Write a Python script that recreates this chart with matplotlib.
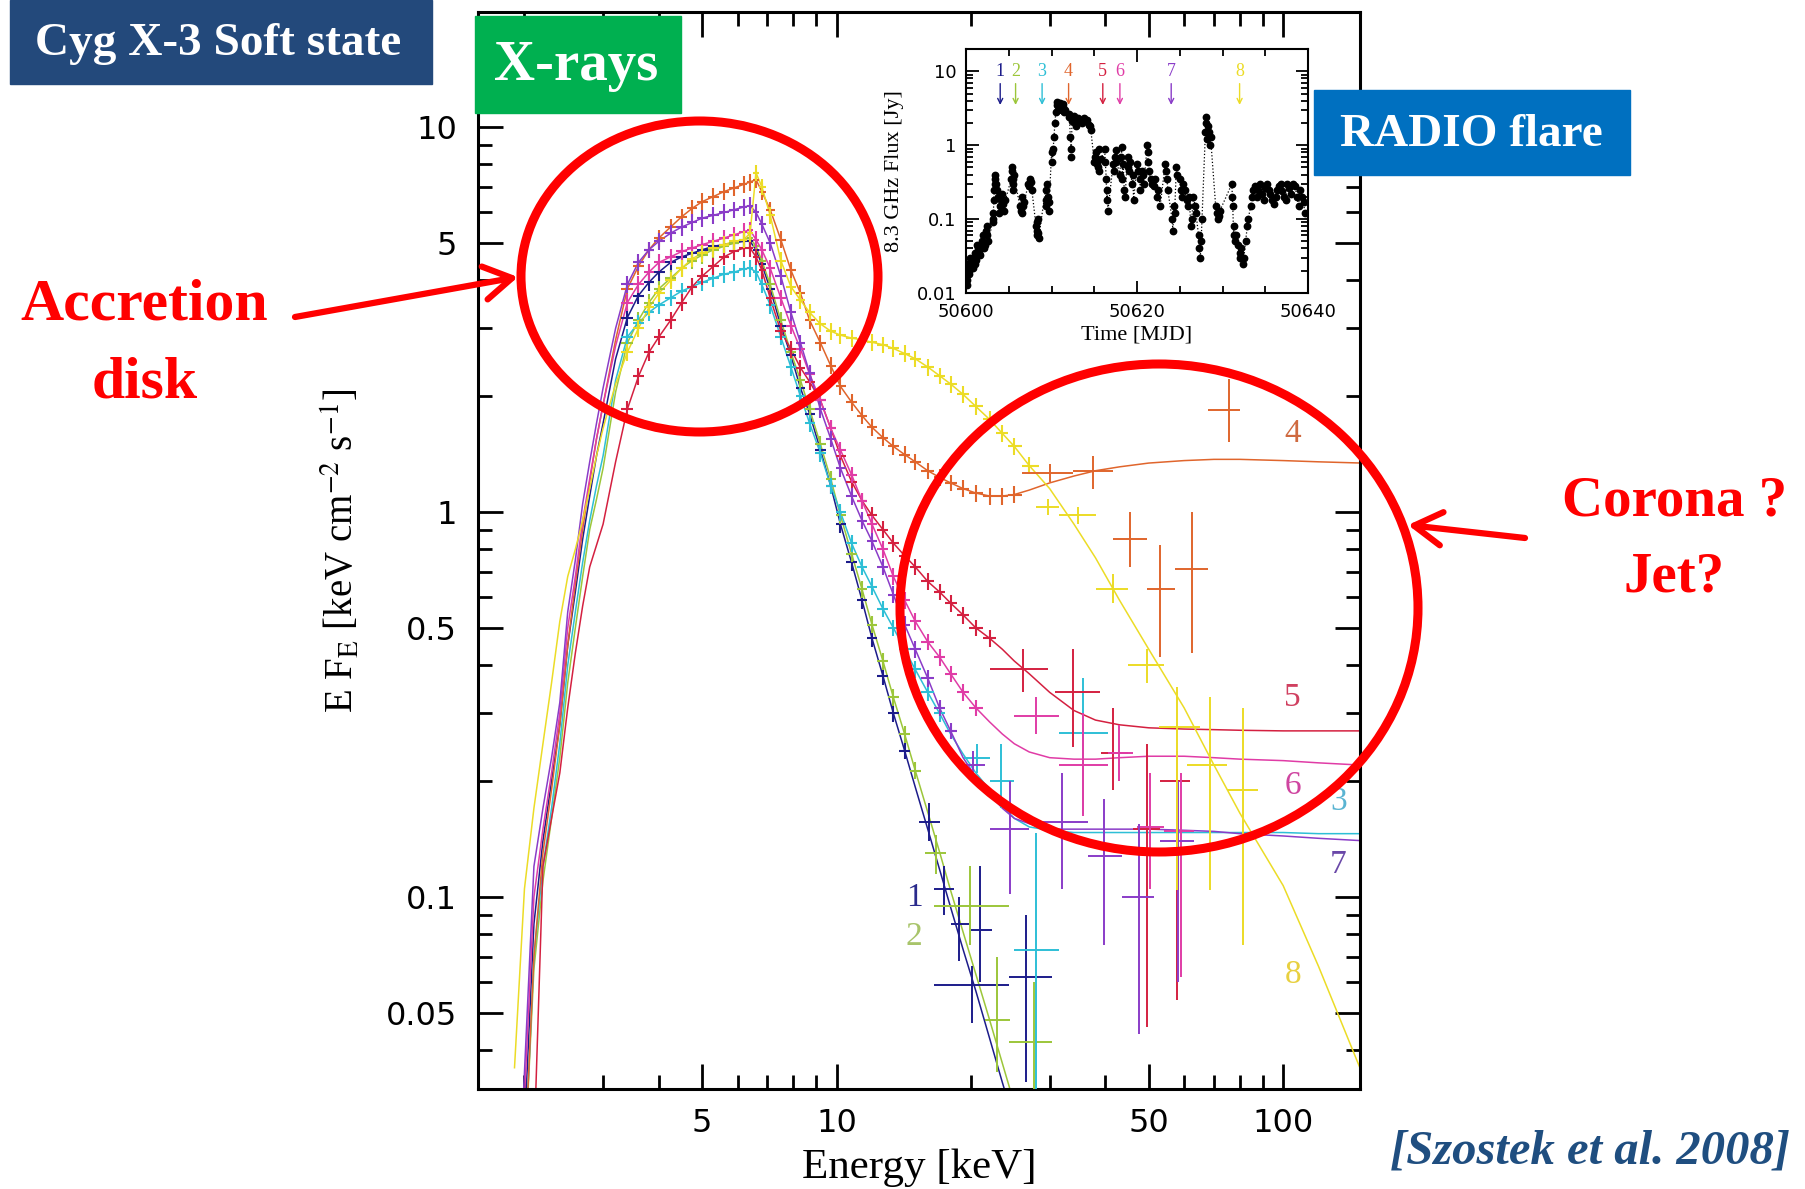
"""Cyg X-3 soft state: X-ray spectra (RXTE) with the radio flare light curve inset"""

import matplotlib
matplotlib.use('Agg')
import matplotlib.pyplot as plt
import numpy as np
from matplotlib.patches import Ellipse, Rectangle, FancyArrowPatch
from matplotlib.ticker import LogLocator, MultipleLocator, NullFormatter

plt.rcParams['mathtext.fontset'] = 'stix'

W, H = 1806, 1189

# energy grid of the spectra [keV]
energy = [1.9, 2.0, 2.1, 2.2, 2.3, 2.4, 2.5, 2.6, 2.7, 2.8, 2.9, 3.0,
          3.2, 3.4, 3.6, 3.8, 4.0, 4.25, 4.5, 4.75, 5.0, 5.3, 5.6, 5.9, 6.2, 6.4, 6.6, 6.8,
          7.1, 7.5, 7.9, 8.3, 8.7, 9.2, 9.7, 10.2, 10.8, 11.4, 12.0, 12.7, 13.4, 14.2,
          15.0, 16.0, 17.0, 18.0, 19.2, 20.5, 22.0, 23.5, 25.0,
          27.0, 30.0, 34.0, 38.0, 43.0, 50.0, 60.0, 70.0, 80.0, 100.0, 120.0, 150.0]

# E F_E of the eight spectra on that grid [keV cm^-2 s^-1]
flux_1 = [0.006, 0.025, 0.085, 0.14, 0.2, 0.28, 0.45, 0.62, 0.85, 1.1, 1.4, 1.7,
          2.5, 3.2, 3.65, 3.95, 4.2, 4.45, 4.6, 4.7, 4.8, 4.9, 4.95, 5.0, 5.05, 5.05, 4.8, 4.4,
          3.8, 3.05, 2.55, 2.1, 1.8, 1.45, 1.17, 0.93, 0.74, 0.59, 0.47, 0.375, 0.3, 0.24,
          0.193, 0.15, 0.118, 0.094, 0.073, 0.057, 0.043, 0.033, 0.026,
          0.019, 0.0125, 0.0077, 0.005, 0.003, 0.0016, 0.0008, 0.0004, 0.0002, 0.0001, 0.00005, 0.00002]
flux_2 = [0.005, 0.02, 0.065, 0.11, 0.16, 0.23, 0.36, 0.5, 0.68, 0.9, 1.08, 1.3,
          2.05, 2.75, 3.15, 3.5, 3.8, 4.05, 4.3, 4.5, 4.65, 4.8, 4.9, 5.0, 5.1, 5.15, 4.9, 4.5,
          3.9, 3.15, 2.6, 2.2, 1.85, 1.5, 1.22, 0.98, 0.78, 0.63, 0.51, 0.41, 0.33, 0.265,
          0.213, 0.166, 0.131, 0.104, 0.081, 0.063, 0.048, 0.037, 0.029,
          0.021, 0.014, 0.009, 0.006, 0.0035, 0.002, 0.001, 0.0005, 0.0003, 0.0001, 0.00005, 0.00002]
flux_3 = [0.005, 0.02, 0.07, 0.12, 0.17, 0.25, 0.4, 0.55, 0.74, 0.95, 1.17, 1.4,
          2.2, 2.85, 3.1, 3.3, 3.45, 3.6, 3.75, 3.85, 3.95, 4.05, 4.15, 4.2, 4.28, 4.3, 4.2, 3.9,
          3.45, 2.85, 2.38, 2.0, 1.7, 1.42, 1.17, 1.0, 0.83, 0.72, 0.64, 0.56, 0.5, 0.44,
          0.39, 0.34, 0.3, 0.265, 0.235, 0.21, 0.19, 0.172, 0.16,
          0.152, 0.149, 0.147, 0.147, 0.147, 0.147, 0.147, 0.147, 0.147, 0.147, 0.146, 0.146]
flux_4 = [0.005, 0.02, 0.07, 0.13, 0.19, 0.28, 0.45, 0.65, 0.9, 1.2, 1.55, 1.9,
          2.8, 3.8, 4.35, 4.8, 5.15, 5.5, 5.85, 6.15, 6.4, 6.6, 6.8, 6.95, 7.1, 7.2, 7.3, 6.8,
          6.1, 5.1, 4.25, 3.7, 3.15, 2.75, 2.4, 2.12, 1.93, 1.78, 1.66, 1.56, 1.48, 1.41,
          1.35, 1.28, 1.23, 1.19, 1.15, 1.12, 1.10, 1.10, 1.11,
          1.14, 1.19, 1.24, 1.28, 1.31, 1.34, 1.36, 1.37, 1.37, 1.36, 1.35, 1.34]
flux_5 = [0.003, 0.006, 0.022, 0.12, 0.16, 0.21, 0.31, 0.43, 0.57, 0.72, 0.82, 0.93,
          1.35, 1.85, 2.25, 2.6, 2.85, 3.15, 3.5, 3.85, 4.1, 4.35, 4.6, 4.75, 4.85, 4.85, 4.6, 4.25,
          3.6, 2.95, 2.65, 2.37, 2.18, 1.95, 1.65, 1.4, 1.2, 1.07, 0.98, 0.9, 0.83, 0.77,
          0.72, 0.66, 0.62, 0.58, 0.54, 0.5, 0.47, 0.44, 0.41,
          0.38, 0.34, 0.305, 0.288, 0.28, 0.275, 0.273, 0.272, 0.271, 0.27, 0.27, 0.27]
flux_6 = [0.008, 0.03, 0.1, 0.15, 0.21, 0.3, 0.5, 0.68, 0.95, 1.22, 1.55, 1.9,
          2.7, 3.5, 3.9, 4.2, 4.45, 4.6, 4.75, 4.85, 4.95, 5.05, 5.15, 5.25, 5.35, 5.4, 5.1, 4.8,
          4.3, 3.6, 3.05, 2.65, 2.28, 1.95, 1.65, 1.45, 1.25, 1.07, 0.93, 0.8, 0.68, 0.59,
          0.52, 0.46, 0.42, 0.38, 0.34, 0.31, 0.285, 0.265, 0.25,
          0.238, 0.23, 0.228, 0.228, 0.23, 0.232, 0.232, 0.23, 0.228, 0.226, 0.223, 0.22]
flux_7 = [0.01, 0.035, 0.12, 0.17, 0.23, 0.32, 0.55, 0.75, 1.05, 1.35, 1.7, 2.1,
          3.0, 3.9, 4.45, 4.8, 5.05, 5.3, 5.5, 5.65, 5.8, 5.9, 6.0, 6.1, 6.2, 6.25, 6.0, 5.6,
          5.0, 4.1, 3.3, 2.75, 2.3, 1.85, 1.55, 1.3, 1.1, 0.95, 0.84, 0.72, 0.61, 0.51,
          0.44, 0.37, 0.31, 0.27, 0.23, 0.205, 0.185, 0.17, 0.16,
          0.155, 0.15, 0.15, 0.15, 0.15, 0.15, 0.149, 0.148, 0.146, 0.144, 0.142, 0.14]
flux_8 = [0.036, 0.105, 0.17, 0.25, 0.36, 0.52, 0.68, 0.8, 0.95, 1.15, 1.4, 1.65,
          2.15, 2.6, 3.0, 3.4, 3.7, 4.0, 4.3, 4.55, 4.7, 4.85, 4.95, 5.05, 5.1, 5.3, 7.6, 7.0,
          5.9, 4.5, 3.85, 3.55, 3.3, 3.08, 2.95, 2.88, 2.83, 2.8, 2.76, 2.72, 2.66, 2.58,
          2.5, 2.38, 2.26, 2.15, 2.02, 1.88, 1.74, 1.6, 1.48,
          1.32, 1.15, 0.93, 0.76, 0.59, 0.44, 0.31, 0.22, 0.165, 0.107, 0.066, 0.035]

# energy range covered by the dense PCA points of each spectrum
pca_emin = [3.4, 3.4, 3.4, 3.4, 3.4, 3.4, 3.4, 3.4]
pca_emax = [14.2, 15.0, 17.0, 25.0, 22.0, 20.5, 18.0, 27.0]
pca_rel_err = 0.05

# HEXTE points: spectrum, energy, flux, energy range, flux range
hx_id = [4, 4, 4, 4, 4, 4,
         5, 5, 5, 5, 5,
         6, 6, 6, 6, 6,
         7, 7, 7, 7, 7, 7,
         3, 3, 3, 3,
         1, 1, 1, 1, 1, 1,
         2, 2, 2, 2,
         8, 8, 8, 8, 8, 8, 8]
hx_e = [30.1, 37.6, 45.5, 53.0, 62.5, 75.6,
        26.2, 33.9, 41.6, 49.6, 57.9,
        28.0, 35.7, 43.0, 50.4, 58.9,
        20.2, 24.5, 32.0, 39.6, 47.5, 58.0,
        20.6, 23.3, 28.0, 35.7,
        16.1, 17.4, 18.8, 21.0, 20.1, 26.5,
        16.7, 19.9, 22.9, 27.6,
        29.7, 34.8, 41.6, 49.6, 57.9, 68.7, 81.4]
hx_f = [1.26, 1.28, 0.85, 0.63, 0.71, 1.84,
        0.39, 0.34, 0.237, 0.15, 0.2,
        0.296, 0.22, 0.237, 0.152, 0.148,
        0.22, 0.15, 0.157, 0.128, 0.10, 0.14,
        0.23, 0.20, 0.073, 0.267,
        0.157, 0.105, 0.085, 0.082, 0.059, 0.062,
        0.13, 0.095, 0.048, 0.042,
        1.03, 0.98, 0.63, 0.40, 0.276, 0.22, 0.19]
hx_elo = [26.0, 33.8, 41.6, 49.6, 57.3, 68.0,
          22.1, 30.9, 39.0, 46.0, 53.0,
          25.0, 31.5, 40.5, 47.0, 54.0,
          19.0, 22.0, 28.5, 36.5, 43.5, 53.0,
          19.3, 22.0, 25.0, 31.5,
          15.3, 16.5, 18.0, 20.0, 16.5, 24.3,
          15.8, 16.5, 21.5, 24.3,
          28.0, 31.5, 38.0, 45.0, 52.6, 61.0, 75.0]
hx_ehi = [33.8, 41.6, 49.6, 57.3, 68.0, 80.0,
          29.7, 38.9, 45.0, 53.0, 62.0,
          31.5, 40.5, 46.0, 54.0, 63.0,
          21.5, 27.0, 36.5, 43.5, 51.5, 63.0,
          22.0, 25.0, 31.5, 40.5,
          17.0, 18.3, 19.8, 22.3, 24.3, 30.4,
          17.6, 24.3, 24.5, 30.4,
          31.5, 38.0, 45.0, 54.0, 65.0, 75.0, 88.0]
hx_flo = [1.20, 1.15, 0.72, 0.42, 0.43, 1.52,
          0.34, 0.245, 0.19, 0.046, 0.054,
          0.265, 0.162, 0.20, 0.105, 0.062,
          0.20, 0.102, 0.105, 0.075, 0.044, 0.06,
          0.21, 0.17, 0.03, 0.164,
          0.14, 0.09, 0.068, 0.06, 0.047, 0.033,
          0.115, 0.075, 0.035, 0.025,
          0.98, 0.93, 0.58, 0.36, 0.104, 0.104, 0.075]
hx_fhi = [1.33, 1.40, 1.00, 0.82, 1.00, 2.22,
          0.44, 0.44, 0.31, 0.25, 0.24,
          0.33, 0.30, 0.28, 0.21, 0.21,
          0.24, 0.20, 0.21, 0.18, 0.155, 0.20,
          0.25, 0.25, 0.147, 0.37,
          0.175, 0.12, 0.10, 0.12, 0.066, 0.09,
          0.145, 0.12, 0.07, 0.06,
          1.08, 1.03, 0.69, 0.44, 0.35, 0.33, 0.31]

# curve labels in the plot
label_e = [14.9, 14.9, 133.0, 105.0, 105.0, 105.0, 133.0, 105.0]
label_f = [0.0997, 0.0788, 0.177, 1.6, 0.33, 0.194, 0.121, 0.0628]

spec_colors = ['#1c1c8a', '#9cc63a', '#2ebfd6', '#e0652c', '#d42040', '#e03ca6', '#8a3cc8', '#ecdc26']
label_colors = ['#2a2a8c', '#a8c46a', '#5ab4d2', '#cf6a40', '#d04060', '#cf45a0', '#6a48a8', '#e8d040']

# radio light curve (8.3 GHz), days after MJD 50600 and flux [Jy]
radio_day = [0.1, 0.2, 0.3, 0.5, 0.8, 1.0, 1.2, 1.4, 1.6, 1.9,
             2.1, 2.3, 2.5, 2.6, 3.1, 3.2, 3.3, 3.4, 3.5, 3.7,
             4.0, 4.2, 4.4, 4.6, 5.3, 5.4, 5.5, 5.6, 6.3, 6.5,
             6.6, 6.8, 7.3, 7.5, 7.7, 8.2, 8.3, 8.4, 8.5, 9.3,
             9.4, 9.6, 9.7, 10.0, 10.2, 10.4, 10.6, 10.8, 11.0, 11.3,
             11.6, 12.0, 12.2, 12.3, 12.5, 12.8, 13.2, 13.6, 14.0, 14.4,
             14.6, 15.0, 15.2, 15.4, 15.6, 15.8, 16.2, 16.4, 16.5, 16.6,
             17.2, 17.4, 17.6, 18.0, 18.2, 18.4, 18.6, 18.9, 19.1, 19.4,
             19.6, 20.0, 20.3, 20.6, 20.8, 21.2, 21.3, 21.6, 22.0, 22.3,
             22.7, 23.3, 23.5, 24.1, 24.2, 24.3, 24.6, 25.0, 25.3, 25.6,
             26.0, 26.3, 26.6, 26.9, 27.2, 27.3, 27.4, 27.6, 28.0, 28.1,
             28.3, 28.5, 28.6, 29.2, 29.5, 29.7, 31.1, 31.2, 31.3, 31.5,
             31.8, 32.1, 32.4, 32.7, 32.9, 33.3, 33.6, 34.0, 34.4, 34.8,
             35.2, 35.6, 36.0, 36.4, 36.8, 37.2, 37.6, 38.0, 38.5, 38.9,
             39.3, 39.6]
radio_flux = [0.015, 0.025, 0.018, 0.03, 0.022, 0.035, 0.028, 0.04, 0.033, 0.05,
              0.04, 0.07, 0.06, 0.05, 0.09, 0.12, 0.25, 0.35, 0.3, 0.2,
              0.15, 0.22, 0.13, 0.18, 0.35, 0.45, 0.3, 0.4, 0.15, 0.2,
              0.12, 0.17, 0.3, 0.35, 0.25, 0.08, 0.06, 0.1, 0.055, 0.25,
              0.15, 0.2, 0.13, 0.8, 0.9, 2.0, 3.5, 3.0, 3.7, 3.3,
              3.0, 2.6, 1.3, 0.7, 2.3, 2.0, 2.2, 2.0, 2.1, 1.9,
              1.6, 0.6, 0.8, 0.5, 0.45, 0.65, 0.9, 0.35, 0.25, 0.13,
              0.55, 0.7, 0.6, 0.4, 0.95, 0.55, 0.2, 0.7, 0.45, 0.3,
              0.18, 0.55, 0.35, 0.45, 0.3, 1.0, 0.6, 0.35, 0.28, 0.2,
              0.15, 0.55, 0.35, 0.1, 0.07, 0.15, 0.5, 0.35, 0.2, 0.25,
              0.15, 0.08, 0.2, 0.12, 0.06, 0.04, 0.03, 0.1, 1.5, 2.4,
              1.8, 1.0, 1.3, 0.15, 0.1, 0.13, 0.3, 0.15, 0.06, 0.05,
              0.045, 0.03, 0.025, 0.05, 0.08, 0.15, 0.25, 0.2, 0.3, 0.18,
              0.3, 0.22, 0.16, 0.25, 0.3, 0.2, 0.3, 0.22, 0.28, 0.15,
              0.2, 0.12]
# second pass of points read from the dense clusters
radio_day_b = [0.05, 0.15, 0.4, 0.6, 0.9, 1.1, 1.3, 1.5, 1.7, 2.0,
               2.2, 2.4, 3.15, 3.25, 3.35, 3.45, 3.6, 3.9, 4.1, 4.3,
               5.35, 5.45, 5.55, 6.4, 6.7, 7.4, 7.6, 8.25, 8.35, 8.45,
               9.35, 9.5, 9.65, 10.1, 10.3, 10.5, 10.7, 10.9, 11.1, 11.2,
               11.4, 11.5, 12.1, 12.25, 12.4, 12.6, 12.9, 13.1, 13.4, 13.8,
               14.2, 14.5, 15.1, 15.3, 15.5, 16.3, 16.45, 17.3, 17.5, 18.1,
               18.3, 18.5, 19.0, 19.2, 19.5, 20.1, 20.4, 20.7, 21.25, 21.4,
               21.8, 22.1, 22.5, 23.4, 23.6, 24.4, 24.7, 25.1, 25.4, 25.8,
               26.1, 26.4, 26.8, 27.5, 28.05, 28.2, 28.4, 29.3, 29.6, 31.15,
               31.4, 31.6, 32.0, 32.2, 32.5, 33.0, 33.4, 33.8, 34.2, 34.6,
               35.0, 35.4, 35.8, 36.2, 36.6, 37.0, 37.4, 37.8, 38.2, 38.7,
               39.1, 39.5]
radio_flux_b = [0.02, 0.013, 0.02, 0.025, 0.03, 0.025, 0.045, 0.035, 0.04, 0.06,
                0.045, 0.08, 0.1, 0.18, 0.3, 0.4, 0.25, 0.12, 0.18, 0.16,
                0.5, 0.25, 0.35, 0.13, 0.15, 0.28, 0.32, 0.07, 0.09, 0.065,
                0.18, 0.3, 0.17, 0.6, 1.3, 2.8, 3.8, 3.2, 3.5, 3.0,
                3.6, 2.8, 2.4, 0.9, 2.1, 2.5, 1.8, 2.3, 2.1, 2.3,
                2.2, 1.8, 0.7, 0.55, 0.9, 0.6, 0.18, 0.45, 0.85, 0.7,
                0.35, 0.25, 0.5, 0.6, 0.4, 0.45, 0.25, 0.4, 0.8, 0.45,
                0.3, 0.35, 0.25, 0.45, 0.25, 0.12, 0.4, 0.25, 0.3, 0.18,
                0.2, 0.1, 0.15, 0.05, 2.0, 1.2, 1.5, 0.12, 0.11, 0.2,
                0.08, 0.06, 0.035, 0.04, 0.03, 0.1, 0.2, 0.28, 0.25, 0.22,
                0.26, 0.25, 0.18, 0.2, 0.28, 0.24, 0.18, 0.26, 0.3, 0.2,
                0.25, 0.17]
# days of the eight X-ray observations
obs_day = [4.0, 5.8, 8.9, 12.0, 16.0, 18.0, 24.0, 32.0]


fig = plt.figure(figsize=(W / 100, H / 100), dpi=100)
fig.patch.set_facecolor('white')

# ---- main spectrum panel
ax = fig.add_axes([478 / W, 1 - 1089 / H, (1360 - 478) / W, (1089 - 12) / H])
ax.set_xscale('log')
ax.set_yscale('log')

E = np.array(energy)
edges = np.sqrt(E[1:] * E[:-1])
lo_edge = np.concatenate([[E[0]], edges])
hi_edge = np.concatenate([edges, [E[-1]]])

all_flux = [flux_1, flux_2, flux_3, flux_4, flux_5, flux_6, flux_7, flux_8]
for k, fl in enumerate(all_flux):
    fl = np.array(fl)
    c = spec_colors[k]
    ax.plot(E, fl, color=c, lw=1.1, zorder=2)
    m = (E >= pca_emin[k] - 1e-6) & (E <= pca_emax[k] + 1e-6)
    ax.errorbar(E[m], fl[m], xerr=[E[m] - lo_edge[m], hi_edge[m] - E[m]],
                yerr=[fl[m] * pca_rel_err, fl[m] * pca_rel_err],
                fmt='none', ecolor=c, elinewidth=1.5, capsize=0, zorder=3)

hx_id_a = np.array(hx_id)
hx_e_a, hx_f_a = np.array(hx_e), np.array(hx_f)
for k in range(8):
    m = hx_id_a == k + 1
    ax.errorbar(hx_e_a[m], hx_f_a[m],
                xerr=[hx_e_a[m] - np.array(hx_elo)[m], np.array(hx_ehi)[m] - hx_e_a[m]],
                yerr=[hx_f_a[m] - np.array(hx_flo)[m], np.array(hx_fhi)[m] - hx_f_a[m]],
                fmt='none', ecolor=spec_colors[k], elinewidth=1.4, capsize=0, zorder=3)

for k in range(8):
    ax.text(label_e[k], label_f[k], str(k + 1), color=label_colors[k], fontsize=24,
            family='Liberation Serif', ha='center', va='center', zorder=4)

ax.set_xlim(1.574, 148.6)
ax.set_ylim(0.0317, 19.9)
ax.set_xticks([5, 10, 50, 100])
ax.set_xticklabels(['5', '10', '50', '100'])
ax.set_yticks([0.05, 0.1, 0.5, 1, 5, 10])
ax.set_yticklabels(['0.05', '0.1', '0.5', '1', '5', '10'])
ax.xaxis.set_minor_locator(LogLocator(base=10, subs=(2, 3, 4, 6, 7, 8, 9)))
ax.yaxis.set_minor_locator(LogLocator(base=10, subs=(2, 3, 4, 6, 7, 8, 9)))
ax.xaxis.set_minor_formatter(NullFormatter())
ax.yaxis.set_minor_formatter(NullFormatter())
ax.tick_params(which='both', direction='in', top=True, right=True, width=2)
ax.tick_params(which='major', length=18)
ax.tick_params(which='minor', length=10)
ax.tick_params(axis='x', which='major', labelsize=23, pad=14)
ax.tick_params(axis='y', which='major', labelsize=23, pad=15)
for s in ax.spines.values():
    s.set_linewidth(2.2)

ax.set_xlabel('Energy [keV]', fontsize=31, family='Liberation Serif')
ax.xaxis.set_label_coords(0.5, -0.055)
ax.set_ylabel(r'E F$_\mathrm{E}$ [keV cm$^{-2}$ s$^{-1}$]', fontsize=28, family='Liberation Serif')
ax.yaxis.set_label_coords(-0.1315, 0.5)

# ---- radio inset
ins = fig.add_axes([966 / W, 1 - 293 / H, (1308 - 966) / W, (293 - 49) / H])
ins.set_yscale('log')
rd = 50600 + np.concatenate([radio_day, radio_day_b])
rf = np.concatenate([radio_flux, radio_flux_b])
order = np.argsort(rd, kind='stable')
ins.plot(rd[order], rf[order], ls=':', lw=0.9, color='k',
         marker='o', ms=4.6, mfc='k', mec='k')
for k, d in enumerate(obs_day):
    ins.text(50600 + d, 10, str(k + 1), color=spec_colors[k], fontsize=13,
             family='Liberation Serif', ha='center', va='center')
    ins.annotate('', xy=(50600 + d, 3.5), xytext=(50600 + d, 6.8),
                 arrowprops=dict(arrowstyle='->', color=spec_colors[k], lw=1.0,
                                 mutation_scale=9, shrinkA=0, shrinkB=0))
ins.set_xlim(50600, 50640)
ins.set_ylim(0.01, 20)
ins.set_xticks([50600, 50620, 50640])
ins.set_xticklabels(['50600', '50620', '50640'])
ins.set_yticks([0.01, 0.1, 1, 10])
ins.set_yticklabels(['0.01', '0.1', '1', '10'])
ins.xaxis.set_minor_locator(MultipleLocator(5))
ins.yaxis.set_minor_locator(LogLocator(base=10, subs=(2, 3, 4, 5, 6, 7, 8, 9)))
ins.yaxis.set_minor_formatter(NullFormatter())
ins.tick_params(which='both', direction='in', top=True, right=True, width=1.3)
ins.tick_params(which='major', length=9, labelsize=13, pad=7)
ins.tick_params(which='minor', length=5)
for s in ins.spines.values():
    s.set_linewidth(1.5)
ins.set_xlabel('Time [MJD]', fontsize=16, family='Liberation Serif')
ins.xaxis.set_label_coords(0.5, -0.135)
ins.set_ylabel('8.3 GHz Flux [Jy]', fontsize=16, family='Liberation Serif')
ins.yaxis.set_label_coords(-0.18, 0.5)

# ---- slide annotations, in pixel coordinates
ov = fig.add_axes([0, 0, 1, 1], zorder=10)
ov.set_xlim(0, W)
ov.set_ylim(H, 0)
ov.axis('off')

ov.add_patch(Rectangle((10, 0), 422, 84, color='#23497b'))
ov.add_patch(Rectangle((475, 16), 206, 97, color='#00b050'))
ov.add_patch(Rectangle((1314, 90), 316, 85, color='#0070c0'))
ov.text(218, 55, 'Cyg X-3 Soft state', color='white', fontsize=34, fontweight='bold',
        family='Liberation Serif', ha='center', va='baseline')
ov.text(576, 80, 'X-rays', color='white', fontsize=41, fontweight='bold',
        family='Liberation Serif', ha='center', va='baseline')
ov.text(1471, 146, 'RADIO flare', color='white', fontsize=34, fontweight='bold',
        family='Liberation Serif', ha='center', va='baseline')

red = '#ff0000'
ov.add_patch(Ellipse((699.5, 276.5), 357, 311, fill=False, ec=red, lw=6.5))
ov.add_patch(Ellipse((1159, 608), 518, 488, fill=False, ec=red, lw=6.5))
ov.add_patch(FancyArrowPatch((295, 317), (518, 277), arrowstyle='->,head_length=1.0,head_width=0.6',
                             mutation_scale=20, color=red, lw=4.5, shrinkA=0, shrinkB=0))
ov.add_patch(FancyArrowPatch((1525, 538), (1408, 525), arrowstyle='->,head_length=1.0,head_width=0.6',
                             mutation_scale=20, color=red, lw=4.5, shrinkA=0, shrinkB=0))

ov.text(144, 320, 'Accretion', color=red, fontsize=43, fontweight='bold',
        family='Liberation Serif', ha='center', va='baseline')
ov.text(145, 397, 'disk', color=red, fontsize=43, fontweight='bold',
        family='Liberation Serif', ha='center', va='baseline')
ov.text(1675, 515, 'Corona ?', color=red, fontsize=41, fontweight='bold',
        family='Liberation Serif', ha='center', va='baseline')
ov.text(1674, 592, 'Jet?', color=red, fontsize=41, fontweight='bold',
        family='Liberation Serif', ha='center', va='baseline')
ov.text(1590, 1163, '[Szostek et al. 2008]', color='#1f4e80', fontsize=35, fontweight='bold',
        fontstyle='italic', family='Liberation Serif', ha='center', va='baseline')

fig.savefig('out.png', dpi=100)
